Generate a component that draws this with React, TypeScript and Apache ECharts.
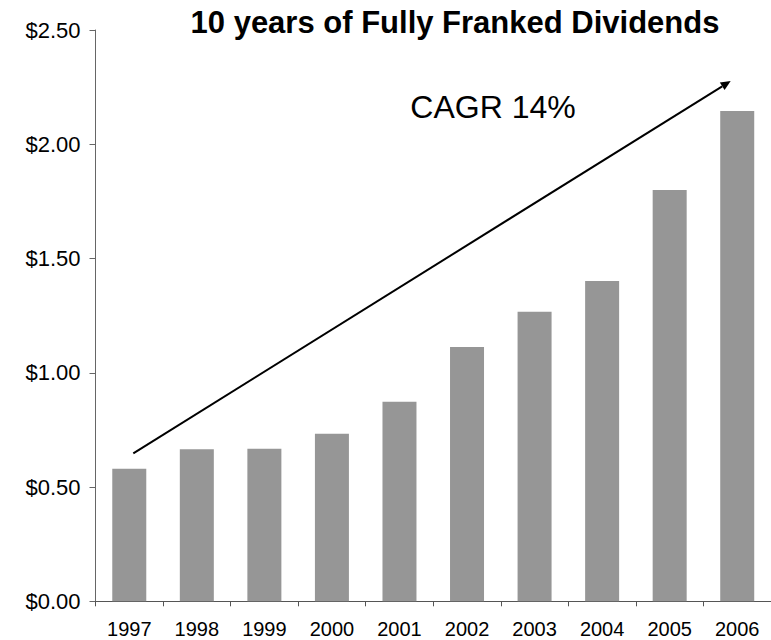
import React, { useEffect, useRef } from "react";
import * as echarts from "echarts";

const years = ["1997", "1998", "1999", "2000", "2001", "2002", "2003", "2004", "2005", "2006"];
const dividends = [0.58, 0.665, 0.668, 0.733, 0.873, 1.113, 1.267, 1.402, 1.8, 2.146];
const yTicks = { min: 0, max: 2.5, interval: 0.5 };
const titleText = "10 years of Fully Franked Dividends";
const cagrText = "CAGR 14%";

const FONT = "'Liberation Sans', Arial, Helvetica, sans-serif";

export default function App() {
  const ref = useRef<HTMLDivElement>(null);
  useEffect(() => {
    if (!ref.current) return;
    const chart = echarts.init(ref.current, undefined, { renderer: "svg" });
    // arrow annotation
    const x1 = 133.3, y1 = 453.3, x2 = 730.7, y2 = 81;
    const ang = Math.atan2(y2 - y1, x2 - x1);
    const hl = 10, hw = 4.5;
    const bx = x2 - hl * Math.cos(ang), by = y2 - hl * Math.sin(ang);
    const px = -Math.sin(ang), py = Math.cos(ang);
    chart.setOption({
      animation: false,
      backgroundColor: "#ffffff",
      grid: { left: 95.5, right: -4.5, top: 30, bottom: 38.7, containLabel: false },
      xAxis: {
        type: "category",
        data: years,
        boundaryGap: true,
        axisLine: { show: true, lineStyle: { color: "#555", width: 1 } },
        axisTick: { show: true, length: 5, inside: false, lineStyle: { color: "#555" } },
        axisLabel: { color: "#000", fontSize: 20, fontFamily: FONT, margin: 18, interval: 0 },
        splitLine: { show: false },
      },
      yAxis: {
        type: "value",
        min: yTicks.min,
        max: yTicks.max,
        interval: yTicks.interval,
        axisLine: { show: true, lineStyle: { color: "#666", width: 1 } },
        axisTick: { show: true, length: 6, lineStyle: { color: "#666" } },
        axisLabel: {
          color: "#000",
          fontSize: 22,
          fontFamily: FONT,
          margin: 15,
          formatter: (v: number) => "$" + v.toFixed(2),
        },
        splitLine: { show: false },
      },
      series: [
        {
          type: "bar",
          data: dividends,
          barWidth: 34,
          itemStyle: { color: "#969696" },
        },
      ],
      graphic: [
        {
          type: "text",
          x: 455,
          y: 22.5,
          style: {
            text: titleText,
            fontSize: 31,
            fontWeight: "bold",
            fontFamily: FONT,
            fill: "#000",
            textAlign: "center",
            textVerticalAlign: "middle",
          },
        },
        {
          type: "text",
          x: 493,
          y: 106.7,
          style: {
            text: cagrText,
            fontSize: 32,
            fontFamily: FONT,
            fill: "#000",
            textAlign: "center",
            textVerticalAlign: "middle",
          },
        },
        {
          type: "line",
          shape: { x1, y1, x2: bx, y2: by },
          style: { stroke: "#000", lineWidth: 2 },
        },
        {
          type: "polygon",
          shape: {
            points: [
              [x2, y2],
              [bx + px * hw, by + py * hw],
              [bx - px * hw, by - py * hw],
            ],
          },
          style: { fill: "#000" },
        },
      ],
    });
    return () => chart.dispose();
  }, []);
  return (
    <div
      ref={ref}
      style={{ position: "absolute", left: 0, top: 0, width: 771, height: 640, background: "#fff" }}
    />
  );
}
